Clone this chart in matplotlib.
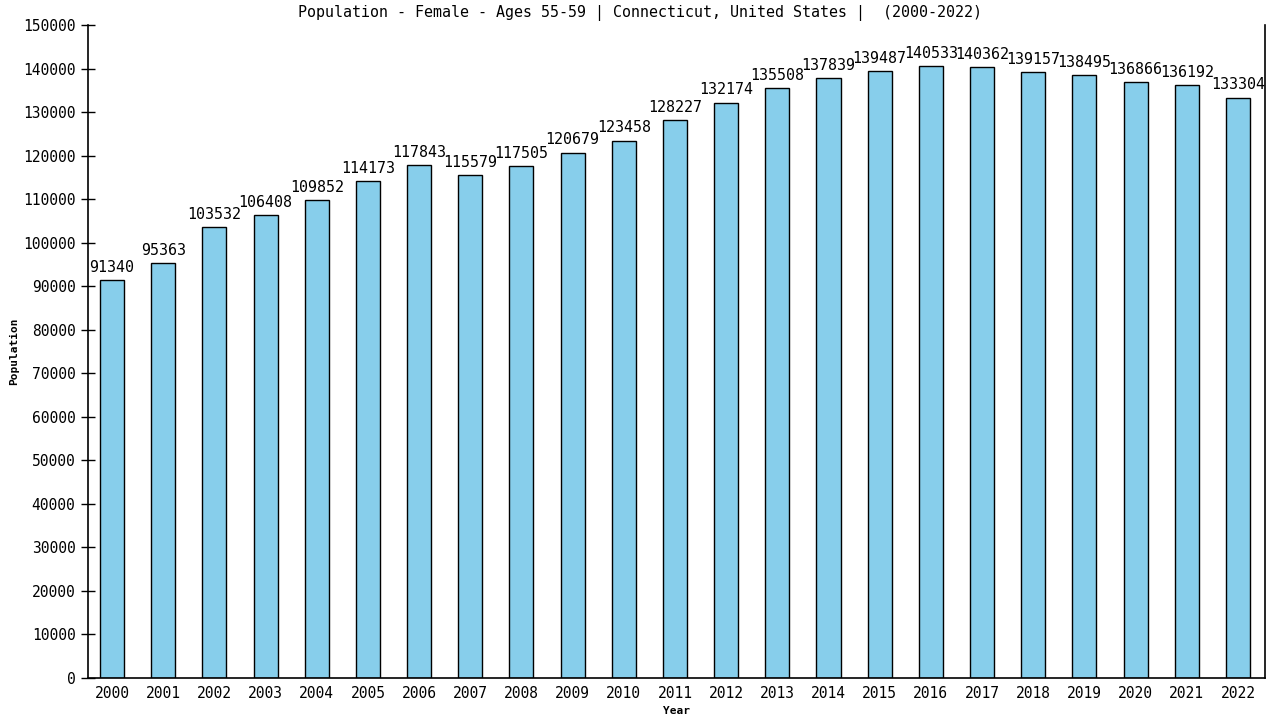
import matplotlib
matplotlib.use("Agg")
import matplotlib.pyplot as plt
import numpy as np

years = [str(y) for y in range(2000, 2023)]
values = [91340, 95363, 103532, 106408, 109852, 114173, 117843, 115579, 117505,
          120679, 123458, 128227, 132174, 135508, 137839, 139487, 140533, 140362,
          139157, 138495, 136866, 136192, 133304]
yticks = list(range(0, 150001, 10000))

plt.rcParams['font.family'] = ['DejaVu Sans Mono']

fig = plt.figure(figsize=(12.8, 7.2), dpi=100)
ax = fig.add_axes([88/1280, 1 - 678/720, (1265-88)/1280, (678-25)/720])

x = np.arange(len(years))
ax.bar(x, values, width=0.47, color='#87CEEB', edgecolor='black', linewidth=1.0)
for xi, v in zip(x, values):
    ax.text(xi, v + 1200, str(v), ha='center', va='bottom', fontsize=10.8)

ax.set_xlim(-0.47, 22.53)
ax.set_ylim(0, 150000)
ax.set_yticks(yticks)
ax.set_yticklabels([str(t) for t in yticks], fontsize=10.5)
ax.set_xticks(x)
ax.set_xticklabels(years, fontsize=10.5)
ax.tick_params(axis='y', direction='inout', length=10, width=1, pad=4)
ax.tick_params(axis='x', length=0, pad=6)
ax.spines['top'].set_visible(False)
for s in ['left', 'bottom', 'right']:
    ax.spines[s].set_linewidth(1.2)

ax.set_xlabel('Year', fontsize=8, fontweight='bold', labelpad=3)
ax.set_ylabel('Population', fontsize=8, fontweight='bold', labelpad=3)
fig.text(0.5, 1 - 13/720, 'Population - Female - Ages 55-59 | Connecticut, United States |  (2000-2022)',
         ha='center', va='center', fontsize=10.8)

fig.savefig('out.png', dpi=100)
